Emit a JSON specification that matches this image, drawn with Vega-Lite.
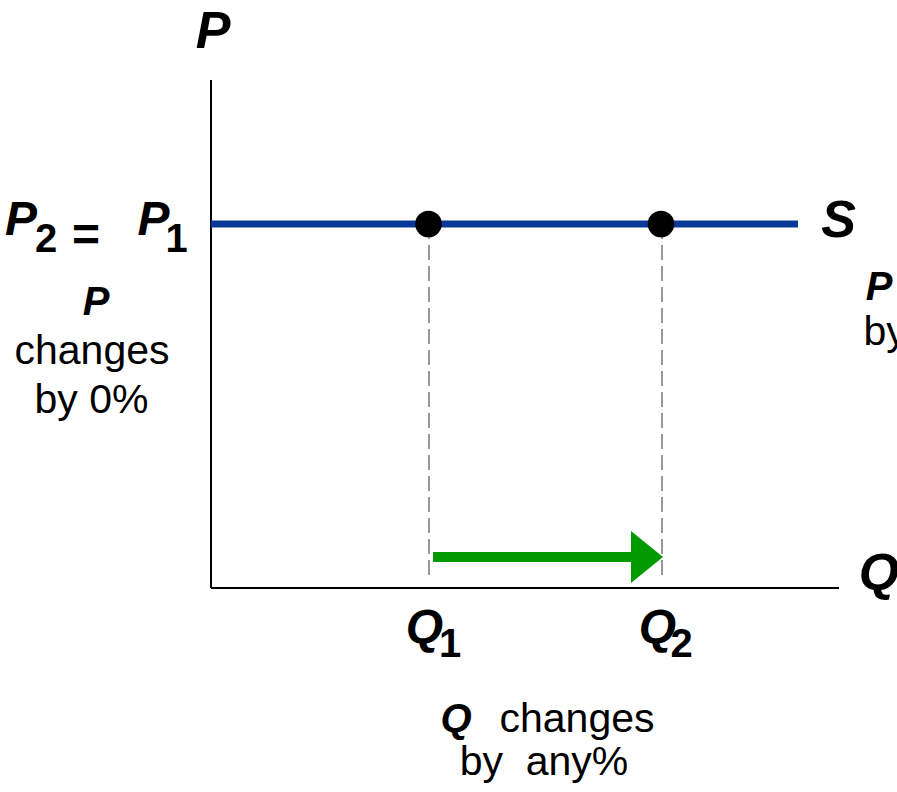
{
  "$schema": "https://vega.github.io/schema/vega-lite/v6.json",
  "width": 897,
  "height": 792,
  "autosize": {"type": "none"},
  "padding": 0,
  "background": "white",
  "datasets": {
    "axes": [
      {"x": 0, "y": 50.8, "x2": 0, "y2": 0},
      {"x": 0, "y": 0, "x2": 62.8, "y2": 0}
    ],
    "supply": [{"x": 0, "y": 36.4, "x2": 58.7, "y2": 36.4}],
    "guides": [
      {"x": 21.8, "y": 36.4, "x2": 21.8, "y2": 0.8},
      {"x": 45.1, "y": 36.4, "x2": 45.1, "y2": 0.8}
    ],
    "shaft": [{"x": 22.2, "y": 3.1, "x2": 42.1, "y2": 3.1}],
    "head": [
      {"x": 42.0, "y": 5.7, "y2": 0.5},
      {"x": 45.2, "y": 3.1, "y2": 3.1}
    ],
    "dots": [
      {"x": 21.75, "y": 36.4},
      {"x": 45.0, "y": 36.4}
    ],
    "axisLetters": [
      {"x": 0.2, "y": 54.0, "label": "P"},
      {"x": 62.75, "y": 35.1, "label": "S"},
      {"x": 66.8, "y": -0.2, "label": "Q"}
    ],
    "pointLetters": [
      {"x": -19.0, "y": 35.3, "label": "P"},
      {"x": -5.75, "y": 35.3, "label": "P"},
      {"x": 21.35, "y": -5.5, "label": "Q"},
      {"x": 44.65, "y": -5.5, "label": "Q"}
    ],
    "subscripts": [
      {"x": -16.5, "y": 33.6, "label": "2"},
      {"x": -3.45, "y": 33.6, "label": "1"},
      {"x": 23.9, "y": -6.9, "label": "1"},
      {"x": 47.05, "y": -6.9, "label": "2"}
    ],
    "equals": [{"x": -12.5, "y": 33.7, "label": "="}],
    "noteLetters": [
      {"x": -11.5, "y": 27.3, "label": "P"},
      {"x": 66.8, "y": 28.8, "label": "P"},
      {"x": 24.5, "y": -14.4, "label": "Q"}
    ],
    "notes": [
      {"x": -11.9, "y": 22.4, "label": "changes"},
      {"x": -11.95, "y": 17.5, "label": "by 0%"},
      {"x": 36.6, "y": -14.4, "label": "changes"},
      {"x": 33.3, "y": -18.7, "label": "by \u00a0any%"},
      {"x": 70.95, "y": 24.3, "label": "by 0%"}
    ]
  },
  "encoding": {
    "x": {"field": "x", "type": "quantitative", "axis": null,
          "scale": {"domain": [-21.1, 68.6], "nice": false, "zero": false}},
    "y": {"field": "y", "type": "quantitative", "axis": null,
          "scale": {"domain": [-20.4, 58.8], "nice": false, "zero": false}}
  },
  "layer": [
    {
      "data": {"name": "axes"},
      "mark": {"type": "rule", "color": "black", "strokeWidth": 2},
      "encoding": {"x2": {"field": "x2"}, "y2": {"field": "y2"}}
    },
    {
      "data": {"name": "guides"},
      "mark": {"type": "rule", "color": "#999999", "strokeWidth": 2, "strokeDash": [15, 6]},
      "encoding": {"x2": {"field": "x2"}, "y2": {"field": "y2"}}
    },
    {
      "data": {"name": "supply"},
      "mark": {"type": "rule", "color": "#0a3a99", "strokeWidth": 7, "strokeCap": "butt"},
      "encoding": {"x2": {"field": "x2"}, "y2": {"field": "y2"}}
    },
    {
      "data": {"name": "shaft"},
      "mark": {"type": "rule", "color": "#009a00", "strokeWidth": 10, "strokeCap": "butt"},
      "encoding": {"x2": {"field": "x2"}, "y2": {"field": "y2"}}
    },
    {
      "data": {"name": "head"},
      "mark": {"type": "area", "color": "#009a00", "orient": "vertical", "opacity": 1},
      "encoding": {"y2": {"field": "y2"}}
    },
    {
      "data": {"name": "dots"},
      "mark": {"type": "circle", "color": "black", "size": 707, "opacity": 1}
    },
    {
      "data": {"name": "axisLetters"},
      "mark": {"type": "text", "font": "Liberation Sans", "fontSize": 52, "fontWeight": "bold",
               "fontStyle": "italic", "align": "center", "baseline": "alphabetic", "color": "black"},
      "encoding": {"text": {"field": "label"}}
    },
    {
      "data": {"name": "pointLetters"},
      "mark": {"type": "text", "font": "Liberation Sans", "fontSize": 48, "fontWeight": "bold",
               "fontStyle": "italic", "align": "center", "baseline": "alphabetic", "color": "black"},
      "encoding": {"text": {"field": "label"}}
    },
    {
      "data": {"name": "subscripts"},
      "mark": {"type": "text", "font": "Liberation Sans", "fontSize": 40, "fontWeight": "bold",
               "align": "center", "baseline": "alphabetic", "color": "black"},
      "encoding": {"text": {"field": "label"}}
    },
    {
      "data": {"name": "equals"},
      "mark": {"type": "text", "font": "Liberation Sans", "fontSize": 48, "fontWeight": "bold",
               "align": "center", "baseline": "alphabetic", "color": "black"},
      "encoding": {"text": {"field": "label"}}
    },
    {
      "data": {"name": "noteLetters"},
      "mark": {"type": "text", "font": "Liberation Sans", "fontSize": 40, "fontWeight": "bold",
               "fontStyle": "italic", "align": "center", "baseline": "alphabetic", "color": "black"},
      "encoding": {"text": {"field": "label"}}
    },
    {
      "data": {"name": "notes"},
      "mark": {"type": "text", "font": "Liberation Sans", "fontSize": 41,
               "align": "center", "baseline": "alphabetic", "color": "black"},
      "encoding": {"text": {"field": "label"}}
    }
  ],
  "config": {"view": {"stroke": null}}
}
